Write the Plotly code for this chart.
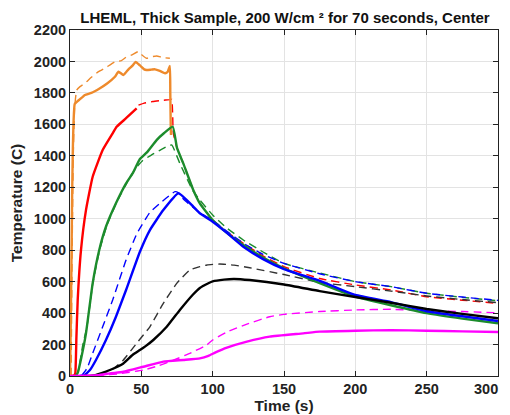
import plotly.graph_objects as go

# ---------- data ----------
orange_solid_t = [0, 0.5, 1, 1.5, 2, 2.5, 3.3, 5, 7, 10.5, 15, 21, 26, 31.5, 34, 37.4, 41, 44, 46, 49, 52, 53.7, 57, 59.6, 63, 66.6, 68.5, 70, 70.3, 70.6, 70.8]
orange_solid_T = [0, 300, 700, 1150, 1450, 1620, 1730, 1745, 1760, 1787, 1800, 1830, 1860, 1903, 1935, 1914, 1950, 1975, 1997, 1975, 1950, 1946, 1948, 1950, 1940, 1925, 1935, 1971, 1800, 1600, 1532]

orange_dash_t = [0.8, 1.5, 2.3, 3.2, 4.7, 7, 10.5, 15, 20, 25, 31.5, 36, 39.7, 43, 47.7, 50, 53.7, 57, 60.7, 65, 70]
orange_dash_T = [0, 800, 1400, 1700, 1818, 1840, 1862, 1900, 1935, 1960, 1998, 2005, 2030, 2040, 2062, 2045, 2020, 2030, 2035, 2025, 2020]

red_solid_t = [1, 3, 3.7, 4.5, 5.4, 7.7, 11.2, 15.9, 22.9, 29.9, 32.7, 39.3, 46.7]
red_solid_T = [0, 5, 17, 250, 483, 801, 1055, 1267, 1437, 1543, 1585, 1639, 1702]

red_dash_t = [48, 52, 58, 64, 70, 71.3, 72, 72.4, 75, 79.4, 86.4, 91, 100, 110, 121.5, 135, 150, 175, 200, 225, 250, 275, 300]
red_dash_T = [1722, 1735, 1745, 1752, 1757, 1759, 1650, 1543, 1450, 1352, 1183, 1100, 990, 915, 844, 765, 695, 620, 579, 547, 504, 482, 462]

green_solid_t = [4, 5.4, 8, 11.2, 15.9, 20.5, 25.2, 32.2, 39.3, 44, 49, 53.7, 60.7, 66, 72, 75, 79.4, 86.4, 91, 100, 110, 121.5, 135, 150, 175, 200, 225, 250, 275, 300]
green_solid_T = [0, 20, 120, 271, 590, 801, 949, 1098, 1225, 1290, 1380, 1420, 1500, 1545, 1585, 1450, 1352, 1183, 1098, 992, 910, 833, 755, 685, 590, 505, 450, 400, 365, 335]

green_dash_t = [4.5, 6, 9, 12, 16, 21, 26, 33, 40, 46, 51, 57, 63, 68, 71.3, 73, 77, 86, 91, 100, 110, 121.5, 135, 150, 175, 200, 225, 250, 275, 300]
green_dash_T = [0, 40, 200, 320, 590, 810, 960, 1110, 1230, 1320, 1370, 1405, 1435, 1460, 1469, 1440, 1352, 1180, 1119, 1024, 940, 865, 790, 716, 655, 600, 568, 526, 500, 478]

blue_solid_t = [7, 10, 14, 18.2, 25.2, 32.2, 39.3, 49, 56, 65.4, 76, 86.4, 91, 100, 110, 121.5, 135, 150, 175, 200, 225, 250, 275, 300]
blue_solid_T = [0, 5, 38, 102, 229, 377, 547, 790, 928, 1055, 1162, 1077, 1035, 981, 910, 822, 745, 680, 605, 515, 470, 412, 380, 350]

blue_dash_t = [8, 12, 15.9, 22.9, 29.9, 39.3, 47, 56, 63, 73.6, 76, 80, 90, 100, 110, 121.5, 135, 150, 175, 200, 225, 250, 275, 300]
blue_dash_T = [0, 50, 144, 313, 483, 738, 907, 1040, 1098, 1172, 1165, 1120, 1045, 990, 920, 844, 775, 716, 650, 600, 568, 526, 502, 481]

black_solid_t = [10, 16, 25.7, 28, 37.4, 44, 49, 53, 58.4, 67.8, 77, 86.4, 91, 97, 100, 108, 115, 126, 150, 175, 200, 225, 250, 275, 300]
black_solid_T = [0, 2, 30, 38, 80, 135, 165, 190, 229, 313, 420, 520, 560, 590, 602, 613, 617, 610, 582, 540, 502, 466, 426, 395, 367]

black_dash_t = [12, 20, 30, 37.4, 46.7, 56, 65.4, 74.8, 84, 91, 96, 105, 115, 126, 150, 175, 200, 225, 250, 275, 300]
black_dash_T = [0, 10, 45, 102, 208, 313, 462, 589, 674, 695, 706, 712, 705, 688, 645, 595, 568, 540, 509, 486, 466]

mag_solid_t = [0, 10, 20, 28, 37.4, 51.4, 65.4, 79.4, 91, 97, 102, 110, 124, 140, 163.5, 175, 200, 225, 250, 275, 300]
mag_solid_T = [0, 2, 5, 17, 27, 59, 91, 102, 112, 128, 150, 180, 218, 250, 271, 282, 288, 292, 288, 284, 280]

mag_dash_t = [0, 20, 35, 51.4, 62, 72.4, 84, 95.8, 100, 110, 124, 140, 150, 175, 200, 225, 250, 275, 300]
mag_dash_T = [0, 3, 15, 38, 65, 100, 144, 197, 229, 280, 330, 377, 392, 410, 420, 424, 415, 410, 402]

x_ticks = [0, 50, 100, 150, 200, 250, 300]
y_ticks = [0, 200, 400, 600, 800, 1000, 1200, 1400, 1600, 1800, 2000, 2200]

# ---------- figure ----------
ORANGE = "#EE8A2C"
RED = "#FF0000"
GREEN = "#1C8C2C"
BLUE = "#0000FF"
BLACK = "#000000"
MAGENTA = "#FF00FF"

series = [
    (orange_dash_t, orange_dash_T, ORANGE, "dash"),
    (red_dash_t, red_dash_T, RED, "dash"),
    (green_dash_t, green_dash_T, GREEN, "dash"),
    (blue_dash_t, blue_dash_T, BLUE, "dash"),
    (black_dash_t, black_dash_T, "#333333", "dash"),
    (mag_dash_t, mag_dash_T, MAGENTA, "dash"),
    (orange_solid_t, orange_solid_T, ORANGE, "solid"),
    (red_solid_t, red_solid_T, RED, "solid"),
    (green_solid_t, green_solid_T, GREEN, "solid"),
    (blue_solid_t, blue_solid_T, BLUE, "solid"),
    (black_solid_t, black_solid_T, BLACK, "solid"),
    (mag_solid_t, mag_solid_T, MAGENTA, "solid"),
]

fig = go.Figure()
for t, T, c, d in series:
    fig.add_trace(go.Scatter(
        x=t, y=T, mode="lines",
        line=dict(color=c, width=1.4 if d == "dash" else 2.4,
                  dash="8px,5px" if d == "dash" else "solid", shape="spline", smoothing=0.4),
        showlegend=False, hoverinfo="skip",
    ))

FONT = "Liberation Sans, Arial, sans-serif"
TICKFONT = dict(family=FONT, size=14.5, color="#222222", weight="bold")
axis_common = dict(
    showline=True, linecolor="#222222", linewidth=1, mirror="ticks",
    ticks="inside", ticklen=5, tickcolor="#222222",
    showgrid=True, gridcolor="#E3E3E3", gridwidth=1,
    zeroline=False, automargin=False,
    tickfont=TICKFONT,
)

# last x tick label drawn right-aligned so it stays inside the visible window
x_ticktext = [str(v) for v in x_ticks[:-1]] + [""]

# page body has an 8px margin, so the figure is sized/offset to compensate
W, H = 502, 407
fig.update_layout(
    width=W, height=H,
    margin=dict(l=62, r=12, t=22, b=39),
    paper_bgcolor="white", plot_bgcolor="white",
    title=dict(
        text="LHEML, Thick Sample, 200 W/cm \u00b2 for 70 seconds, Center",
        x=277 / W, xanchor="center", y=1 - 9.5 / H, yanchor="middle",
        font=dict(family=FONT, size=15, color="#111111", weight="bold"),
        automargin=False,
    ),
    xaxis=dict(
        range=[0, 300], tickvals=x_ticks, ticktext=x_ticktext,
        title=dict(text="Time (s)", font=dict(family=FONT, size=15.5, color="#222222", weight="bold"), standoff=3),
        **axis_common,
    ),
    yaxis=dict(
        range=[0, 2200], tickvals=y_ticks, ticktext=[str(v) for v in y_ticks],
        title=dict(text="Temperature (C)", font=dict(family=FONT, size=15.5, color="#222222", weight="bold"), standoff=7),
        **axis_common,
    ),
    annotations=[dict(
        x=x_ticks[-1], xref="x", y=0, yref="paper",
        text=str(x_ticks[-1]), showarrow=False,
        xanchor="right", yanchor="middle", xshift=2, yshift=-13,
        font=TICKFONT,
    )],
)

fig.write_html("out.html")
